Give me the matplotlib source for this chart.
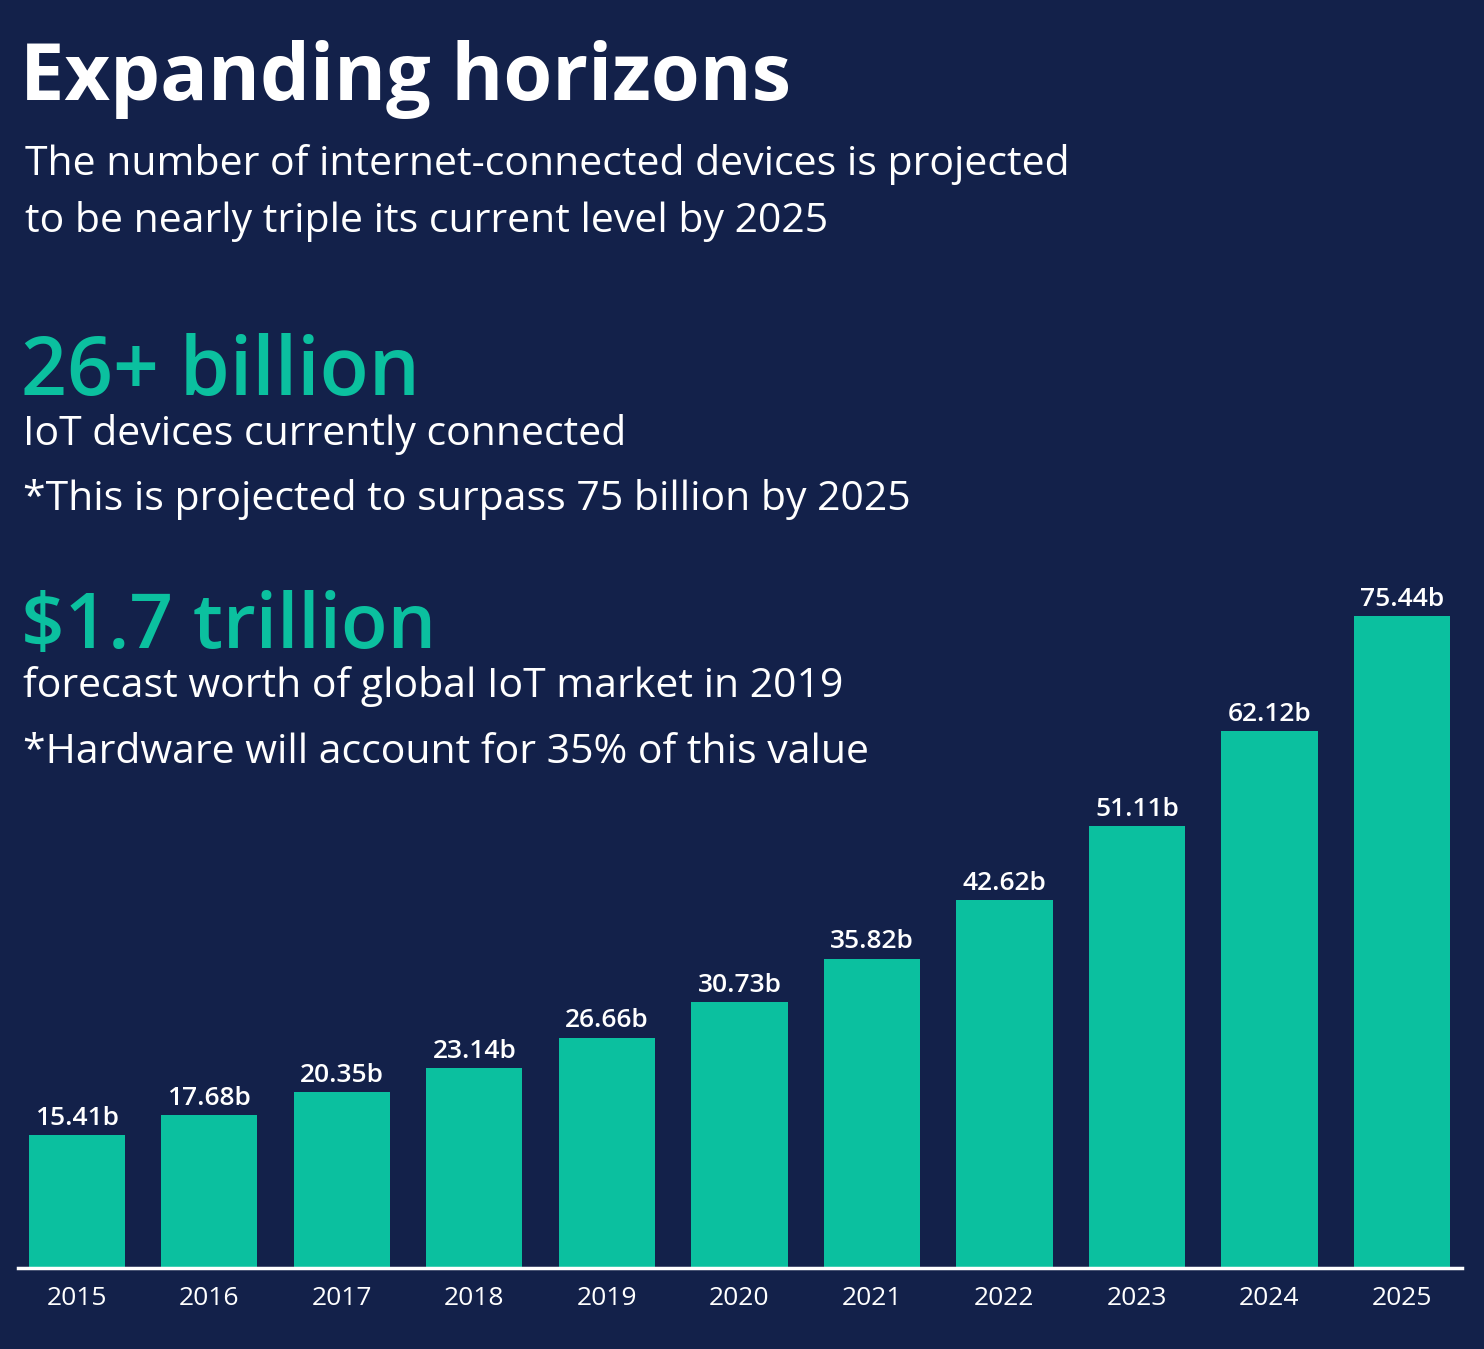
import matplotlib.pyplot as plt

years = ['2015', '2016', '2017', '2018', '2019', '2020',
         '2021', '2022', '2023', '2024', '2025']
devices = [15.41, 17.68, 20.35, 23.14, 26.66, 30.73,
           35.82, 42.62, 51.11, 62.12, 75.44]

bg = '#13214a'
teal = '#0bc09f'
W, H = 1484, 1349

plt.rcParams['font.family'] = ['Open Sans', 'DejaVu Sans']

fig = plt.figure(figsize=(W / 100, H / 100), dpi=100, facecolor=bg)


def fy(px):
    return 1 - px / H


body = 29.5

# headline block
fig.text(20 / W, fy(100), 'Expanding horizons', color='white', fontsize=57,
         fontweight='bold', va='baseline')
fig.text(25 / W, fy(175), 'The number of internet-connected devices is projected',
         color='white', fontsize=body, va='baseline')
fig.text(25 / W, fy(232), 'to be nearly triple its current level by 2025',
         color='white', fontsize=body, va='baseline')

fig.text(21 / W, fy(395), '26+ billion', color=teal, fontsize=58,
         fontweight='semibold', va='baseline')
fig.text(23 / W, fy(445), 'IoT devices currently connected',
         color='white', fontsize=body, va='baseline')
fig.text(23 / W, fy(510), '*This is projected to surpass 75 billion by 2025',
         color='white', fontsize=body, va='baseline')

fig.text(21 / W, fy(648), '$1.7 trillion', color=teal, fontsize=55,
         fontweight='semibold', va='baseline')
fig.text(23 / W, fy(697), 'forecast worth of global IoT market in 2019',
         color='white', fontsize=body, va='baseline')
fig.text(23 / W, fy(763), '*Hardware will account for 35% of this value',
         color='white', fontsize=body, va='baseline')

# bar chart
ax = fig.add_axes([18 / W, fy(1268), (1462 - 18) / W, 1000 / H])
ax.set_facecolor('none')
x = list(range(len(years)))
bars = ax.bar(x, devices, width=0.725, color=teal, zorder=2)
ax.set_xlim(-0.445, 10.453)
ax.set_ylim(0, 1000 / 8.64)

for xi, v in zip(x, devices):
    ax.annotate('{:.2f}b'.format(v), (xi, v), xytext=(0, 3),
                textcoords='offset points', ha='center', va='bottom',
                color='white', fontsize=19, fontweight='semibold')

ax.axhline(0, color='white', lw=2.5, zorder=3, clip_on=False)
for s in ax.spines.values():
    s.set_visible(False)
ax.set_yticks([])
ax.set_xticks(x)
ax.set_xticklabels(years, color='white', fontsize=19)
ax.tick_params(axis='x', length=0, pad=13)

fig.savefig('out.png', dpi=100, facecolor=bg)
